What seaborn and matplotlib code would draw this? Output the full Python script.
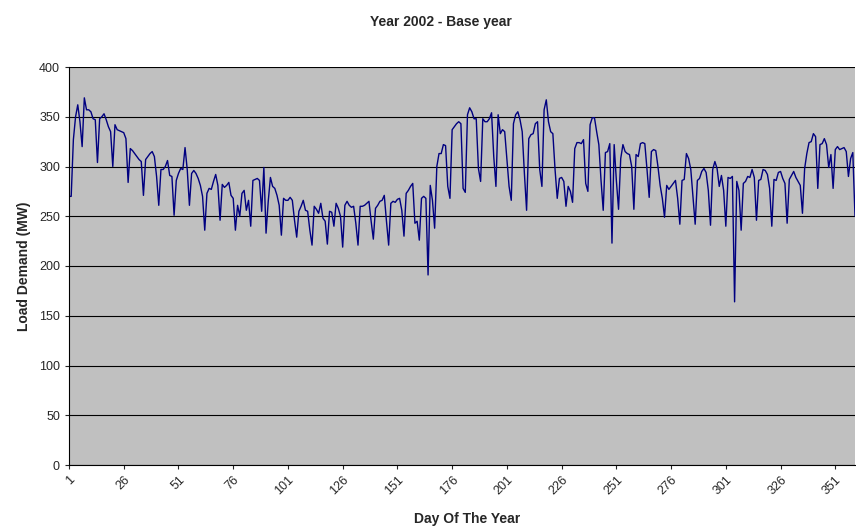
import matplotlib
matplotlib.use("Agg")
import matplotlib.pyplot as plt
import matplotlib.transforms as mtransforms
import numpy as np
import pandas as pd
import seaborn as sns

# Daily load demand (MW)
load_q1 = [
    270, 270, 327, 350, 362, 345, 320,
    369, 357, 357, 355, 348, 347, 304,
    348, 350, 353, 347, 340, 335, 300,
    342, 337, 336, 335, 334, 328, 284,
    318, 316, 313, 310, 307, 305, 271,
    307, 310, 313, 315, 310, 290, 261,
    297, 297, 300, 306, 291, 290, 251,
    286, 293, 298, 297, 319, 297, 261,
    293, 296, 293, 288, 281, 270, 236,
    273, 278, 277, 285, 292, 281, 246,
    282, 279, 281, 284, 271, 268, 236,
    261, 250, 273, 276, 256, 266, 240,
    286, 287, 288, 286, 255, 299, 233,
]
load_q2 = [
    265, 289, 280, 278, 271, 261, 231,
    268, 266, 266, 269, 266, 246, 229,
    255, 260, 266, 256, 255, 236, 221,
    260, 257, 253, 263, 248, 245, 222,
    255, 254, 240, 263, 258, 250, 219,
    261, 265, 261, 259, 260, 243, 221,
    260, 260, 261, 263, 265, 245, 227,
    258, 261, 265, 266, 271, 245, 221,
    263, 265, 264, 267, 268, 256, 230,
    273, 276, 280, 283, 243, 245, 226,
    268, 270, 268, 191, 281, 266, 238,
    300, 313, 313, 322, 321, 280, 268,
    337, 340, 343, 345, 343, 278, 274,
]
load_q3 = [
    352, 359, 355, 348, 348, 298, 285,
    348, 345, 345, 348, 354, 310, 280,
    352, 333, 337, 335, 307, 280, 266,
    343, 352, 355, 347, 335, 293, 256,
    328, 332, 333, 343, 345, 297, 280,
    357, 367, 345, 335, 333, 297, 268,
    288, 289, 285, 260, 280, 275, 264,
    318, 324, 324, 323, 327, 283, 275,
    342, 349, 349, 335, 322, 286, 256,
    314, 315, 323, 223, 322, 286, 257,
    308, 322, 315, 313, 312, 300, 257,
    312, 310, 323, 324, 323, 297, 269,
    315, 317, 316, 300, 281, 268, 249,
]
load_q4 = [
    281, 277, 280, 283, 286, 268, 242,
    286, 287, 313, 308, 297, 270, 242,
    286, 288, 295, 298, 294, 276, 241,
    297, 305, 298, 280, 291, 276, 240,
    289, 288, 290, 164, 285, 276, 236,
    283, 285, 290, 289, 297, 289, 246,
    286, 287, 297, 296, 292, 278, 240,
    287, 286, 294, 295, 288, 283, 243,
    287, 291, 295, 289, 285, 281, 253,
    298, 313, 324, 325, 333, 330, 278,
    322, 323, 328, 322, 299, 312, 278,
    317, 320, 317, 318, 319, 315, 290,
    308, 314, 250,
]

load = load_q1 + load_q2 + load_q3 + load_q4
df = pd.DataFrame({"day": np.arange(1, len(load) + 1), "load": load})

x_ticks = list(range(1, 352, 25))
y_ticks = list(range(0, 401, 50))

sns.set_style("white")
plt.rcParams["font.family"] = ["Liberation Sans", "DejaVu Sans"]

fig = plt.figure(figsize=(8.56, 5.29), dpi=100)
ax = fig.add_axes([69 / 856, 64 / 529, 786 / 856, 398 / 529])
ax.set_facecolor("#c0c0c0")

sns.lineplot(data=df, x="day", y="load", color="#000080", linewidth=1.0, ax=ax)

ax.set_xlim(1, len(load))
ax.set_ylim(0, 400)
ax.set_yticks(y_ticks)
ax.set_xticks(x_ticks)
ax.set_xticklabels([str(t) for t in x_ticks], rotation=45, ha="right",
                   rotation_mode="anchor", fontsize=9)
# shift rotated labels a little to the left like the original
shift = mtransforms.ScaledTranslation(-4 / 100, 0, fig.dpi_scale_trans)
for lbl in ax.get_xticklabels():
    lbl.set_transform(lbl.get_transform() + shift)
ax.tick_params(axis="y", labelsize=9, length=3, direction="out", left=True)
ax.tick_params(axis="x", length=3, direction="out", bottom=True)
ax.yaxis.grid(True, color="black", linewidth=0.8)
ax.set_axisbelow(True)

for side in ["top", "right"]:
    ax.spines[side].set_visible(False)
for side in ["left", "bottom"]:
    ax.spines[side].set_color("black")
    ax.spines[side].set_linewidth(0.8)

ax.set_xlabel("Day Of The Year", fontsize=10, fontweight="bold")
ax.xaxis.label.set_va("center")
ax.xaxis.set_label_coords(467 / 856, 1 - 519 / 529, transform=fig.transFigure)
ax.set_ylabel("Load Demand (MW)", fontsize=10, fontweight="bold", labelpad=6)
fig.suptitle("Year 2002 - Base year", fontsize=10, fontweight="bold",
             x=441 / 856, y=1 - 22 / 529, va="center")

fig.savefig("out.png", dpi=100)
